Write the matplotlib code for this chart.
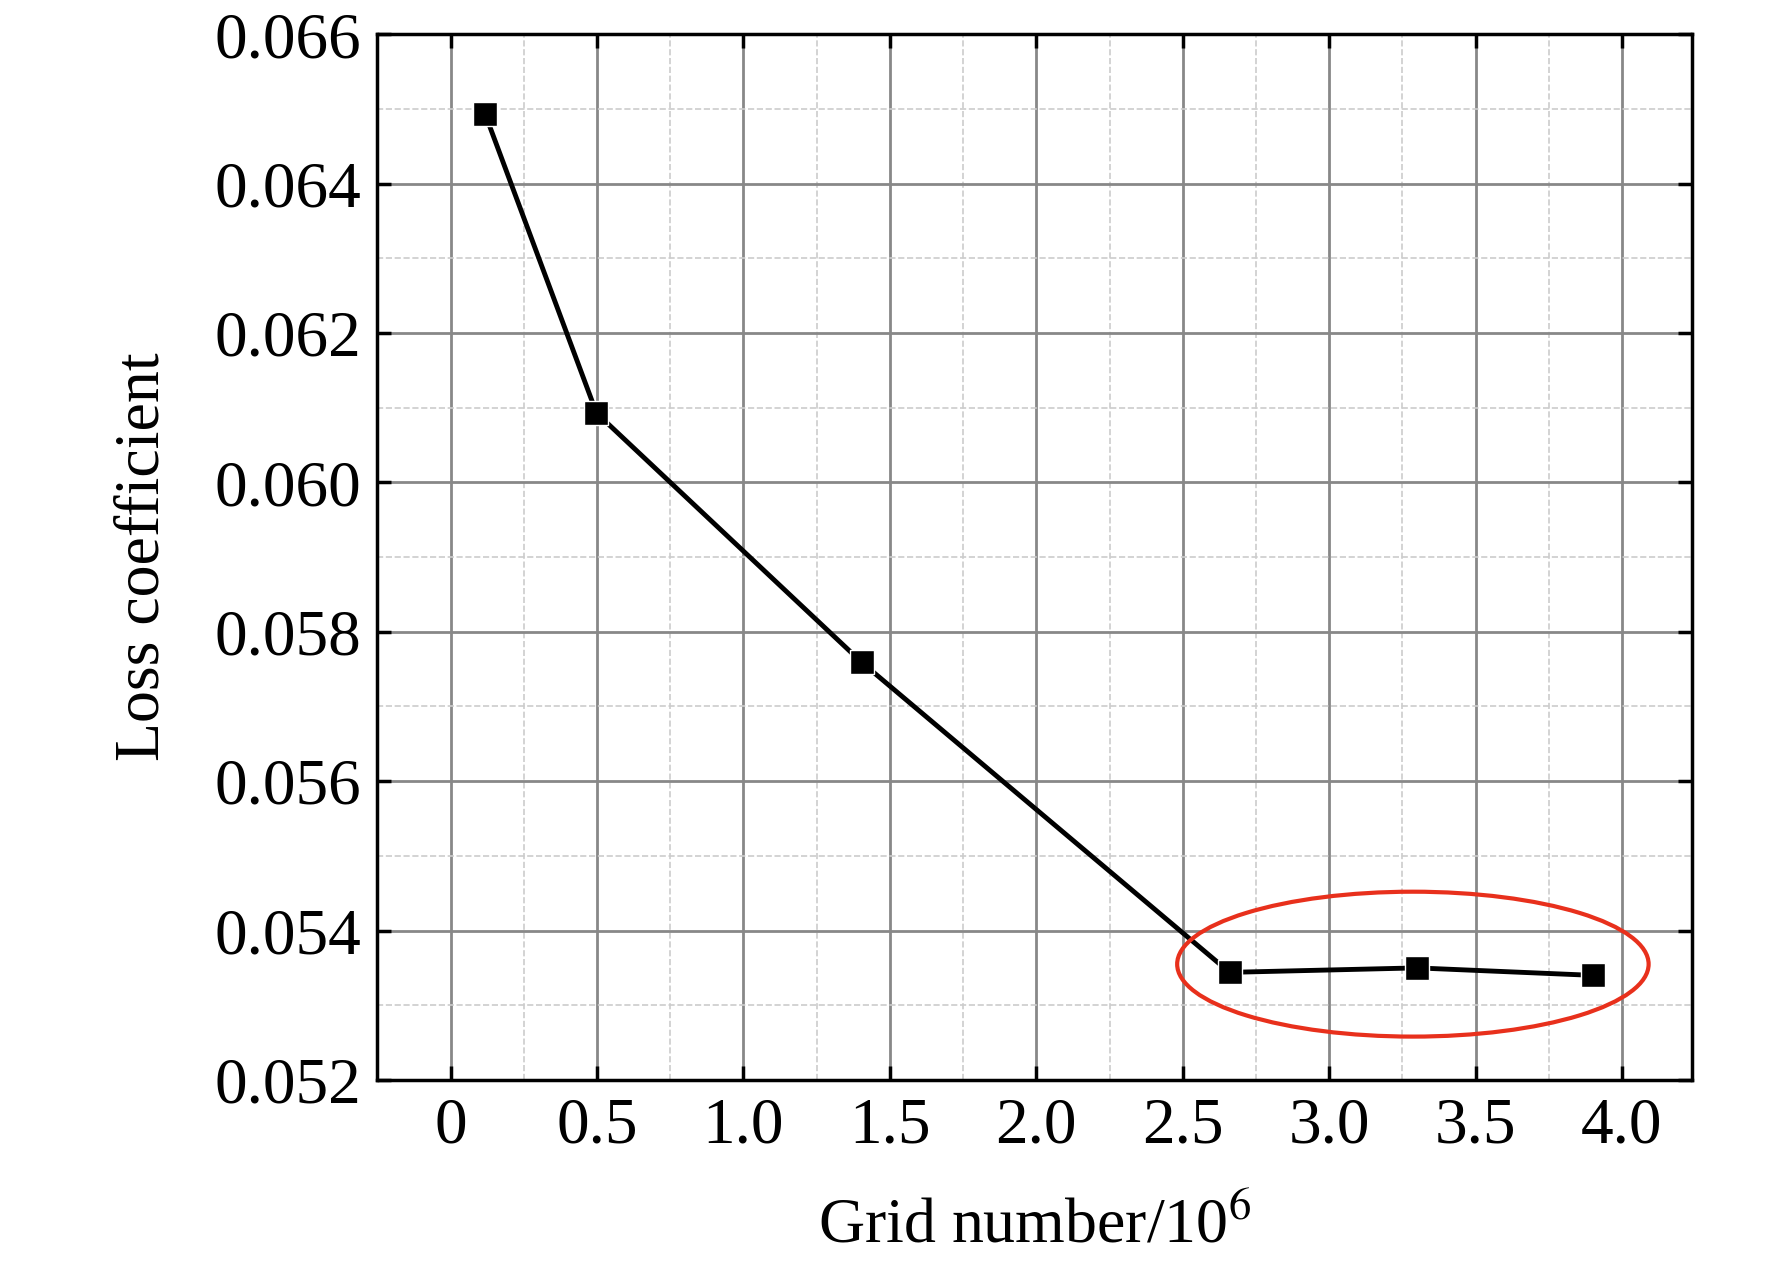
import matplotlib
matplotlib.use("Agg")
import matplotlib.pyplot as plt
from matplotlib.patches import Ellipse
from matplotlib.ticker import MultipleLocator

grid_n = [0.118, 0.498, 1.404, 2.66, 3.30, 3.90]
loss = [0.06493, 0.06093, 0.05759, 0.05344, 0.05350, 0.05340]
xticks = [0, 0.5, 1.0, 1.5, 2.0, 2.5, 3.0, 3.5, 4.0]
xlabels = ["0", "0.5", "1.0", "1.5", "2.0", "2.5", "3.0", "3.5", "4.0"]
yticks = [0.052, 0.054, 0.056, 0.058, 0.060, 0.062, 0.064, 0.066]

plt.rcParams['font.family'] = ['Liberation Serif', 'DejaVu Serif']
plt.rcParams['mathtext.fontset'] = 'stix'
fig = plt.figure(figsize=(17.72, 12.69), dpi=100)
ax = fig.add_axes([0.213, 0.149, 0.742, 0.824])
ax.set_xlim(-0.25, 4.24)
ax.set_ylim(0.052, 0.066)
ax.set_xticks(xticks)
ax.set_xticklabels(xlabels)
ax.set_yticks(yticks)
ax.set_yticklabels([f"{v:.3f}" for v in yticks])
ax.xaxis.set_minor_locator(MultipleLocator(0.25))
ax.yaxis.set_minor_locator(MultipleLocator(0.001))
ax.grid(which='major', color='#888888', lw=2, ls='-')
ax.grid(which='minor', color='#cccccc', lw=1.2, ls='--')
ax.set_axisbelow(True)
ax.tick_params(which='major', direction='in', length=10, width=2.5, top=True, right=True, labelsize=47, pad=12)
ax.tick_params(which='minor', length=0)
for s in ax.spines.values():
    s.set_linewidth(2.5)
ax.plot(grid_n, loss, color='black', lw=3.5, marker='s', ms=17, mfc='black', mec='white', mew=1)
ax.add_patch(Ellipse((3.286, 0.05355), 1.61, 0.00194, fill=False, ec='#e8301c', lw=3, zorder=5))
ax.set_xlabel("Grid number/10$^6$", fontsize=46, labelpad=30)
ax.set_ylabel("Loss coefficient", fontsize=46, labelpad=30)
fig.savefig("out.png", dpi=100)
